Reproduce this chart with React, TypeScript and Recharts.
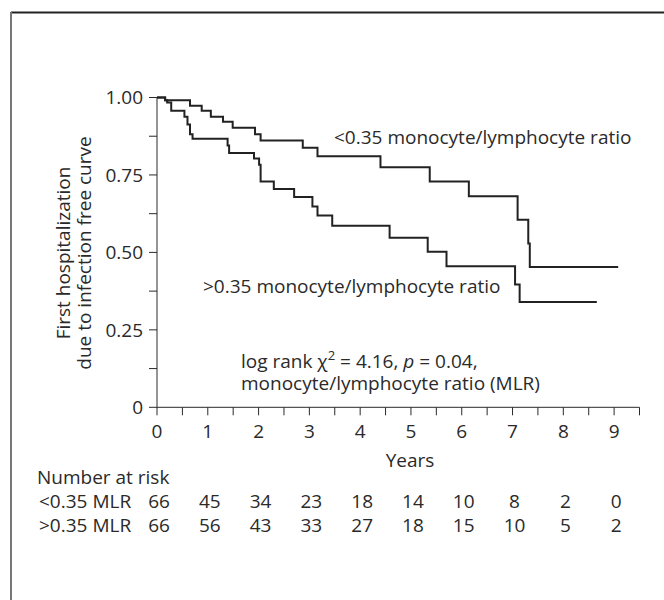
import { LineChart, Line, XAxis, YAxis } from 'recharts'

// Kaplan-Meier steps (years, survival)
const lowMlrYears = [0, 0.16, 0.65, 0.88, 1.06, 1.3, 1.49, 1.93, 2.04, 2.87, 3.16, 4.4, 5.37, 6.14, 7.1, 7.31, 7.34, 9.08]
const lowMlrSurvival = [1.0, 0.991, 0.973, 0.957, 0.938, 0.922, 0.902, 0.881, 0.861, 0.838, 0.81, 0.775, 0.729, 0.681, 0.605, 0.529, 0.453, 0.453]

const highMlrYears = [0, 0.16, 0.2, 0.28, 0.54, 0.6, 0.65, 0.7, 1.39, 1.42, 1.91, 2.01, 2.04, 2.3, 2.7, 3.06, 3.16, 3.45, 4.58, 5.33, 5.7, 7.05, 7.14, 8.66]
const highMlrSurvival = [1.0, 0.991, 0.984, 0.957, 0.938, 0.913, 0.881, 0.867, 0.845, 0.821, 0.803, 0.783, 0.729, 0.705, 0.679, 0.648, 0.619, 0.586, 0.547, 0.502, 0.455, 0.396, 0.34, 0.34]

const yearTicks = [0, 0.5, 1, 1.5, 2, 2.5, 3, 3.5, 4, 4.5, 5, 5.5, 6, 6.5, 7, 7.5, 8, 8.5, 9, 9.5]
const survivalTicks = [0, 0.125, 0.25, 0.375, 0.5, 0.625, 0.75, 0.875, 1]
const survivalLabels: Record<number, string> = { 0: '0', 0.25: '0.25', 0.5: '0.50', 0.75: '0.75', 1: '1.00' }

const riskLowMlr = [66, 45, 34, 23, 18, 14, 10, 8, 2, 0]
const riskHighMlr = [66, 56, 43, 33, 27, 18, 15, 10, 5, 2]
const riskRowLabels = ['<0.35 MLR', '>0.35 MLR']

const lowMlrData = lowMlrYears.map((x, i) => ({ x, y: lowMlrSurvival[i] }))
const highMlrData = highMlrYears.map((x, i) => ({ x, y: highMlrSurvival[i] }))

const FONT = '"Open Sans", sans-serif'
const INK = '#2a2a2a'
const FS = 19

// x tick: year label plus the number-at-risk column below it
function YearTick(props: any) {
  const { x, y, payload } = props
  const v = payload.value
  if (!Number.isInteger(v)) return null
  return (
    <g fontFamily={FONT} fontSize={FS} fill={INK}>
      <text x={x} y={y + 21} textAnchor="middle">{v}</text>
      <text x={x + 2} y={y + 91} textAnchor="middle">{riskLowMlr[v]}</text>
      <text x={x + 2} y={y + 115} textAnchor="middle">{riskHighMlr[v]}</text>
    </g>
  )
}

export default function App() {
  return (
    <div style={{ position: 'absolute', left: 0, top: 0, width: 664, height: 600, background: '#fff' }}>
      <LineChart
        width={664}
        height={600}
        margin={{ top: 97.5, right: 24.5, left: 0, bottom: 162.7 }}
      >
        <XAxis
          dataKey="x"
          type="number"
          domain={[0, 9.5]}
          ticks={yearTicks}
          interval={0}
          height={30}
          tickSize={8}
          tickMargin={2}
          stroke={INK}
          tick={<YearTick />}
        />
        <YAxis
          dataKey="y"
          type="number"
          domain={[0, 1]}
          ticks={survivalTicks}
          interval={0}
          width={157}
          tickSize={8}
          tickMargin={6}
          stroke={INK}
          tickFormatter={(v: number) => survivalLabels[v] ?? ''}
          tick={{ fill: INK, fontSize: FS, fontFamily: FONT }}
        />
        <Line
          data={lowMlrData}
          dataKey="y"
          type="stepAfter"
          stroke="#222"
          strokeWidth={2}
          dot={false}
          isAnimationActive={false}
        />
        <Line
          data={highMlrData}
          dataKey="y"
          type="stepAfter"
          stroke="#222"
          strokeWidth={2}
          dot={false}
          isAnimationActive={false}
        />
      </LineChart>

      <svg
        width={664}
        height={600}
        style={{ position: 'absolute', left: 0, top: 0, pointerEvents: 'none' }}
        fontFamily={FONT}
        fontSize={FS}
        fill={INK}
      >
        {/* figure frame */}
        <line x1={11} y1={12.5} x2={664} y2={12.5} stroke="#222" strokeWidth={2} />
        <line x1={11} y1={12} x2={11} y2={600} stroke="#777" strokeWidth={2} />

        <text x={334} y={144}>&lt;0.35 monocyte/lymphocyte ratio</text>
        <text x={203} y={293}>&gt;0.35 monocyte/lymphocyte ratio</text>

        <text x={241} y={368}>
          log rank χ<tspan dy={-8} fontSize={13}>2</tspan>
          <tspan dy={8}> = 4.16, </tspan>
          <tspan fontStyle="italic">p</tspan> = 0.04,
        </text>
        <text x={241} y={390}>monocyte/lymphocyte ratio (MLR)</text>

        <text x={410} y={467} textAnchor="middle">Years</text>

        <text transform="translate(70 253) rotate(-90)" textAnchor="middle">First hospitalization</text>
        <text transform="translate(91 253) rotate(-90)" textAnchor="middle">due to infection free curve</text>

        <text x={37} y={484}>Number at risk</text>
        <text x={39} y={508}>{riskRowLabels[0]}</text>
        <text x={39} y={532}>{riskRowLabels[1]}</text>
      </svg>
    </div>
  )
}
